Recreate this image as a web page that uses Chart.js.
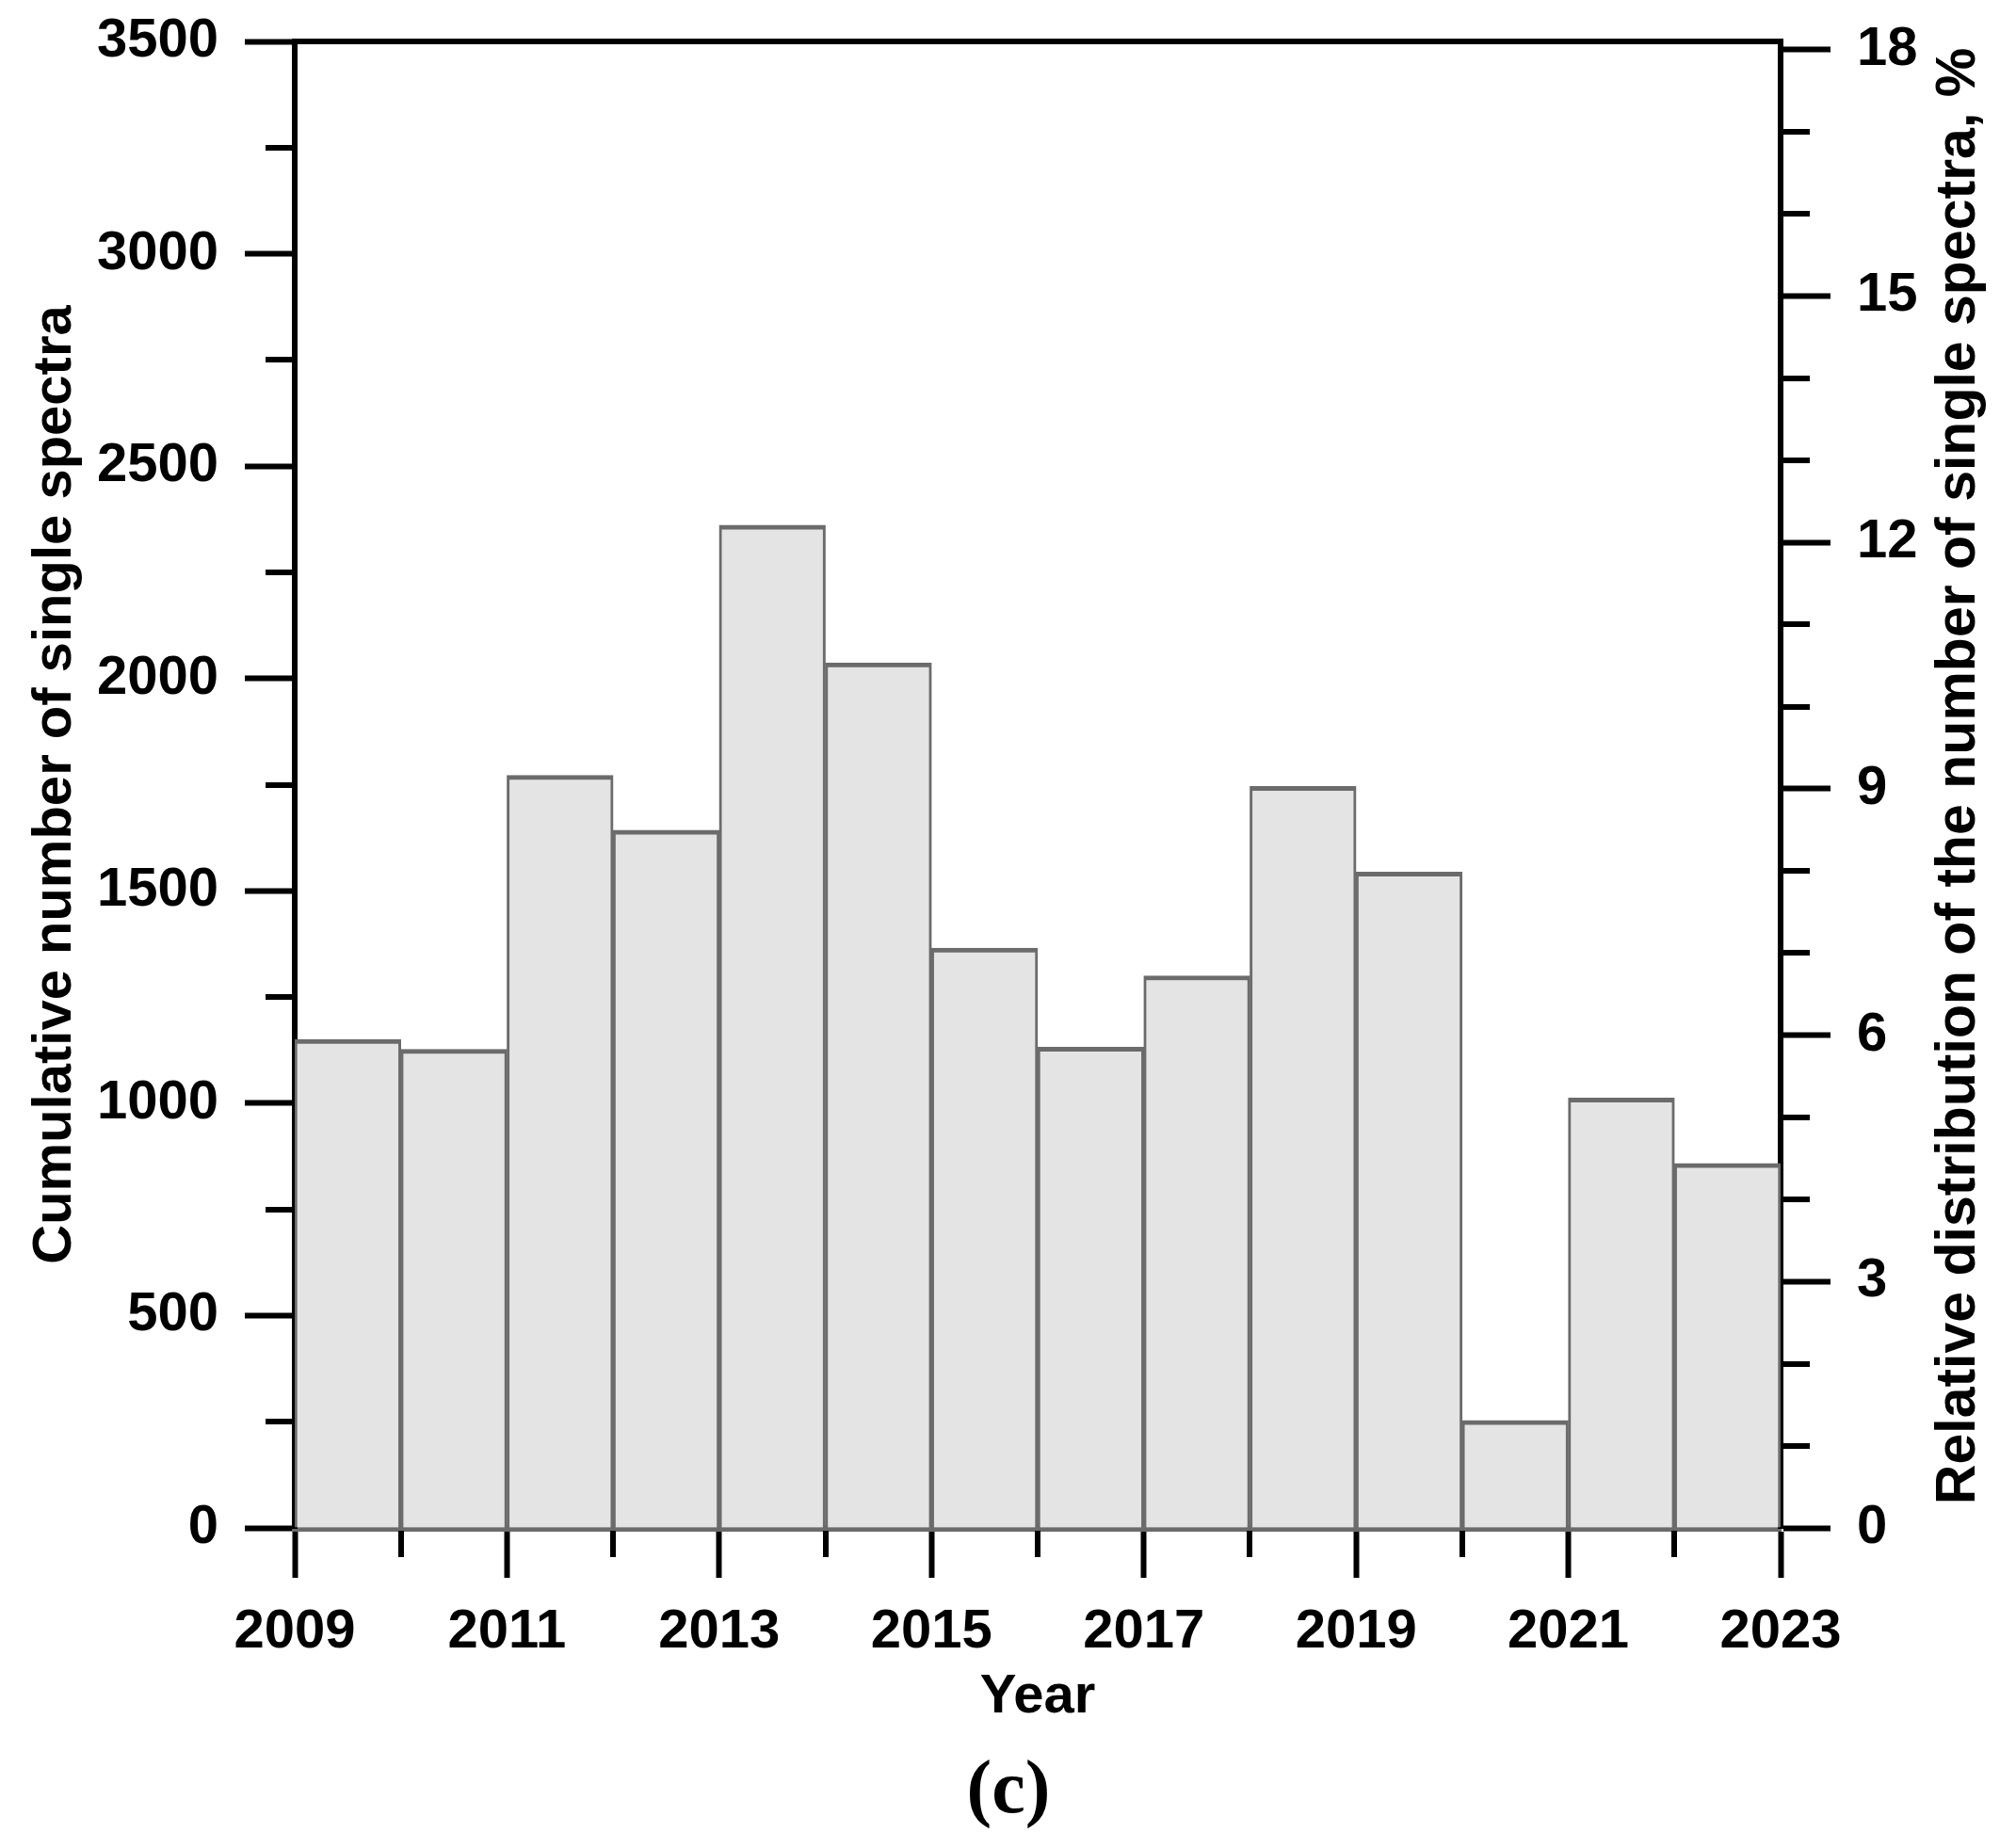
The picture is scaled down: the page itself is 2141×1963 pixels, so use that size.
<!DOCTYPE html>
<html>
<head>
<meta charset="utf-8">
<title>Cumulative number of single spectra</title>
<script src="https://cdn.jsdelivr.net/npm/chart.js@4.4.1/dist/chart.umd.min.js"></script>
<style>
  html, body { margin: 0; padding: 0; background: #fff; }
  canvas { display: block; }
</style>
</head>
<body>
<canvas id="chart" width="2141" height="1963"></canvas>
<script>
// one bar per year, each bar covers [year, year + 1]
const years = [2009, 2010, 2011, 2012, 2013, 2014, 2015, 2016, 2017, 2018, 2019, 2020, 2021, 2022];
const singleSpectra = [1150, 1127, 1772, 1643, 2361, 2037, 1365, 1132, 1300, 1746, 1544, 253, 1012, 858];

// minor (unlabelled) tick positions
const leftMinorTicks = [250, 750, 1250, 1750, 2250, 2750, 3250];
const rightMinorTicks = [1, 2, 4, 5, 7, 8, 10, 11, 13, 14, 16, 17];
const yearMinorTicks = [2010, 2012, 2014, 2016, 2018, 2020, 2022];

const sans = "'Liberation Sans', Arial, sans-serif";
const serif = "'Liberation Serif', 'Times New Roman', serif";
const rightTitle = 'Relative distribution of the number of single spectra, %';

Chart.defaults.font.family = sans;
Chart.defaults.color = '#000';

// short ticks, the rotated right title and the panel letter
const extras = {
    id: 'extras',
    afterDraw(chart) {
        const ctx = chart.ctx;
        const area = chart.chartArea;
        const sy = chart.scales.y, sy1 = chart.scales.y1, sx = chart.scales.x;
        ctx.save();
        ctx.strokeStyle = '#000';
        ctx.lineWidth = 6;
        ctx.beginPath();
        leftMinorTicks.forEach(v => {
            const p = Math.round(sy.getPixelForValue(v));
            ctx.moveTo(area.left - 3, p);
            ctx.lineTo(area.left - 31, p);
        });
        rightMinorTicks.forEach(v => {
            const p = Math.round(sy1.getPixelForValue(v));
            ctx.moveTo(area.right + 3, p);
            ctx.lineTo(area.right + 31, p);
        });
        yearMinorTicks.forEach(v => {
            const p = Math.round(sx.getPixelForValue(v));
            ctx.moveTo(p, area.bottom + 3);
            ctx.lineTo(p, area.bottom + 31);
        });
        ctx.stroke();

        ctx.fillStyle = '#000';
        ctx.font = 'bold 59px ' + sans;
        ctx.textAlign = 'center';
        ctx.textBaseline = 'middle';
        ctx.translate(2081, (area.top + area.bottom) / 2 - 9);
        ctx.rotate(-Math.PI / 2);
        ctx.fillText(rightTitle, 0, 0);
        ctx.restore();

        ctx.save();
        ctx.fillStyle = '#000';
        ctx.font = 'bold 80px ' + serif;
        ctx.textAlign = 'center';
        ctx.textBaseline = 'alphabetic';
        ctx.fillText('(c)', 1071, 1925);
        ctx.restore();
    }
};

const tickFont = { size: 58, weight: 'bold' };

// fixed box sizes so the plot area lands where the figure has it
function fixBox(w, h) {
    return function(s) {
        if (w !== null) s.width = w;
        if (h !== null) s.height = h;
        s.paddingTop = 0;
        s.paddingBottom = 0;
        s.paddingLeft = 0;
        s.paddingRight = 0;
    };
}

new Chart(document.getElementById('chart'), {
    type: 'bar',
    data: {
        datasets: [{
            data: years.map((yr, i) => ({ x: yr + 0.5, y: singleSpectra[i] })),
            backgroundColor: '#e4e4e4',
            borderColor: '#6b6b6b',
            borderWidth: { top: 5, left: 3, right: 3, bottom: 0 },
            borderSkipped: false,
            categoryPercentage: 1,
            barPercentage: 1,
            xAxisID: 'x',
            yAxisID: 'y'
        }]
    },
    options: {
        responsive: false,
        devicePixelRatio: 1,
        animation: false,
        layout: { padding: 0 },
        plugins: {
            legend: { display: false },
            tooltip: { enabled: false }
        },
        scales: {
            x: {
                type: 'linear',
                position: 'bottom',
                min: 2009,
                max: 2023,
                bounds: 'data',
                offset: false,
                ticks: {
                    stepSize: 2,
                    padding: 23,
                    font: tickFont,
                    color: '#000',
                    maxRotation: 0,
                    autoSkip: false,
                    callback: v => String(v)
                },
                grid: { display: true, offset: false, drawOnChartArea: false, drawTicks: true, tickLength: 53, tickWidth: 6, tickColor: '#000' },
                border: { display: true, color: '#6b6b6b', width: 7 },
                title: { display: true, text: 'Year', font: tickFont, color: '#000', padding: { top: 0, bottom: 125 } },
                afterFit: fixBox(null, 340)
            },
            xTop: {
                type: 'linear',
                position: 'top',
                min: 2009,
                max: 2023,
                offset: false,
                ticks: { display: false },
                grid: { display: false, offset: false },
                border: { display: true, color: '#000', width: 6 },
                afterFit: fixBox(null, 44)
            },
            y: {
                type: 'linear',
                position: 'left',
                min: 0,
                max: 3500,
                bounds: 'data',
                ticks: { stepSize: 500, padding: 28, font: tickFont, color: '#000', callback: v => String(v) },
                grid: { display: true, drawOnChartArea: false, drawTicks: true, tickLength: 53, tickWidth: 6, tickColor: '#000' },
                border: { display: true, color: '#000', width: 6 },
                title: { display: true, text: 'Cumulative number of single spectra', font: tickFont, color: '#000', padding: { top: 24, bottom: 0 } },
                afterFit: fixBox(313, null)
            },
            y1: {
                type: 'linear',
                position: 'right',
                min: 0,
                max: 18.1,
                bounds: 'data',
                ticks: { stepSize: 3, includeBounds: false, padding: 28, font: tickFont, color: '#000', callback: v => String(v) },
                grid: { display: true, drawOnChartArea: false, drawTicks: true, tickLength: 53, tickWidth: 6, tickColor: '#000' },
                border: { display: true, color: '#000', width: 6 },
                afterFit: fixBox(250, null)
            }
        }
    },
    plugins: [extras]
});
</script>
</body>
</html>
